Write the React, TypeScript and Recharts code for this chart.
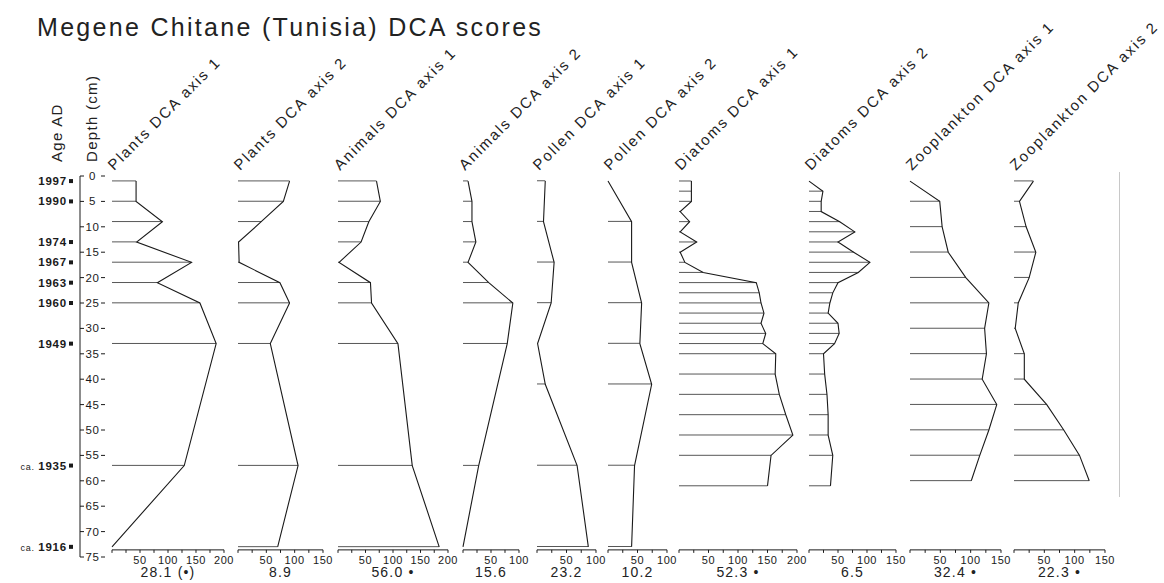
import React from 'react';
import { ComposedChart, Line, Bar, XAxis, YAxis, ReferenceLine } from 'recharts';

// sample depths (cm) per proxy group
const plantDepths = [1, 5, 9, 13, 17, 21, 25, 33, 57, 73];
const pollenDepths = [1, 9, 17, 25, 33, 41, 57, 73];
const diatomDepths = [1, 3, 5, 7, 9, 11, 13, 15, 17, 19, 21, 23, 25, 27, 29, 31, 33, 35, 39, 43, 47, 51, 55, 61];
const zooDepths = [1, 5, 10, 15, 20, 25, 30, 35, 40, 45, 50, 55, 60];

// DCA scores
const plants1 = [43, 43, 90, 44, 142, 81, 157, 186, 129, 0];
const plants2 = [91, 80, 41, 1, 2, 74, 91, 57, 106, 70];
const animals1 = [70, 77, 56, 42, 2, 59, 61, 109, 135, 184];
const animals2 = [9, 16, 16, 23, 9, 46, 89, 79, 28, 0];
const pollen1 = [14, 11, 29, 24, 1, 14, 68, 87];
const pollen2 = [0, 40, 40, 57, 54, 74, 45, 40];
const diatoms1 = [21, 21, 21, 2, 18, 2, 30, 2, 10, 41, 131, 136, 139, 144, 139, 147, 142, 164, 163, 170, 181, 193, 156, 150];
const diatoms2 = [0, 24, 21, 21, 53, 79, 50, 77, 105, 85, 50, 41, 36, 33, 50, 52, 44, 25, 27, 31, 33, 33, 41, 37];
const zoo1 = [0, 49, 53, 63, 92, 130, 123, 126, 119, 143, 130, 115, 101];
const zoo2 = [32, 9, 20, 36, 25, 7, 2, 17, 17, 54, 82, 108, 124];

const panelNames = [
  'Plants DCA axis 1', 'Plants DCA axis 2', 'Animals DCA axis 1', 'Animals DCA axis 2',
  'Pollen DCA axis 1', 'Pollen DCA axis 2', 'Diatoms DCA axis 1', 'Diatoms DCA axis 2',
  'Zooplankton DCA axis 1', 'Zooplankton DCA axis 2',
];
const panelNotes = ['28.1 (•)', '8.9', '56.0 •', '15.6', '23.2', '10.2', '52.3 •', '6.5', '32.4 •', '22.3 •'];
const panelMax = [200, 150, 200, 100, 100, 100, 200, 150, 150, 150];

const ageDepths = [1, 5, 13, 17, 21, 25, 33, 57, 73];
const ageLabels = ['1997', '1990', '1974', '1967', '1963', '1960', '1949', 'ca. 1935', 'ca. 1916'];
const depthTicks = [0, 5, 10, 15, 20, 25, 30, 35, 40, 45, 50, 55, 60, 65, 70, 75];

const series = [
  [plantDepths, plants1], [plantDepths, plants2], [plantDepths, animals1], [plantDepths, animals2],
  [pollenDepths, pollen1], [pollenDepths, pollen2], [diatomDepths, diatoms1], [diatomDepths, diatoms2],
  [zooDepths, zoo1], [zooDepths, zoo2],
];

// layout
const lefts = [112, 238, 338, 463, 537, 608, 679, 809, 910, 1014];
const widths = [112, 85, 110, 56, 59, 59, 118, 87, 91, 91];
const TOP = 176;
const PX_CM = 5.08;
const PANEL_END = 73.6;
const M = 10;
const AXIS_H = 36;
const DEPTH_L = 80;
const DEPTH_R = 105;
const FONT = '"Liberation Sans", Arial, sans-serif';
const INK = '#1a1a1a';

function SampleLine(props: any) {
  const { x, y, width, height } = props;
  if (!width || width < 0.5) return <g />;
  const yy = y + height / 2;
  return <line x1={x} x2={x + width} y1={yy} y2={yy} stroke="#444" strokeWidth={0.9} />;
}

function ValueTick(props: any) {
  const { x, y, payload } = props;
  const v = payload.value;
  if (v === 0 || v % 50 !== 0) return <g />;
  return (
    <text x={x} y={y + 9} textAnchor="middle" fontSize={11} letterSpacing={0.6} fill={INK} fontFamily={FONT}>
      {v}
    </text>
  );
}

function Panel({ i }: { i: number }) {
  const [depths, values] = series[i];
  const data = depths.map((d, k) => ({ depth: d, value: values[k] }));
  const max = panelMax[i];
  const ticks: number[] = [];
  for (let t = 0; t <= max; t += 25) ticks.push(t);
  const plotH = PANEL_END * PX_CM;
  return (
    <div style={{ position: 'absolute', left: lefts[i] - M, top: TOP - M }}>
      <ComposedChart
        layout="vertical"
        width={widths[i] + 2 * M}
        height={plotH + M + AXIS_H}
        data={data}
        margin={{ top: M, right: M, bottom: 0, left: M }}
      >
        <XAxis xAxisId="top" orientation="top" type="number" domain={[0, max]} ticks={ticks} height={0}
          tick={() => <g />} tickSize={3} stroke={INK} />
        <XAxis type="number" domain={[0, max]} ticks={ticks} height={AXIS_H} tickSize={3} stroke={INK}
          tick={ValueTick} interval={0} />
        <YAxis type="number" dataKey="depth" domain={[0, PANEL_END]} width={0} tick={false} stroke={INK} />
        <Bar dataKey="value" barSize={2} shape={SampleLine} isAnimationActive={false} />
        <Line dataKey="value" type="linear" stroke={INK} strokeWidth={1.1} dot={false} isAnimationActive={false} />
      </ComposedChart>
    </div>
  );
}

const axisTicks = Array.from(new Set([...depthTicks, ...ageDepths])).sort((a, b) => a - b);

function DepthAgeTick(props: any) {
  const { y, payload } = props;
  const v = payload.value;
  const idx = ageDepths.indexOf(v);
  const label = idx >= 0 ? ageLabels[idx] : '';
  const ca = label.startsWith('ca. ');
  return (
    <g>
      {depthTicks.includes(v) && (
        <g>
          <line x1={DEPTH_L} x2={DEPTH_L + 4} y1={y} y2={y} stroke={INK} />
          <line x1={DEPTH_R - 4} x2={DEPTH_R} y1={y} y2={y} stroke={INK} />
          <text x={(DEPTH_L + DEPTH_R) / 2} y={y + 4} textAnchor="middle" fontSize={11.5} letterSpacing={0.5}
            fill={INK} fontFamily={FONT}>
            {v}
          </text>
        </g>
      )}
      {idx >= 0 && (
        <g>
          <text x={DEPTH_L - 13} y={y + 4} textAnchor="end" fontSize={11.5} fontWeight="bold" letterSpacing={0.8}
            fill={INK} fontFamily={FONT}>
            {ca && <tspan fontSize={9} fontWeight="normal">ca. </tspan>}
            {ca ? label.slice(4) : label}
          </text>
          <rect x={DEPTH_L - 11} y={y - 2} width={4} height={4} fill={INK} />
        </g>
      )}
    </g>
  );
}

function DepthAxis() {
  const data = ageDepths.map((d, k) => ({ depth: d, age: ageLabels[k] }));
  const plotH = 75 * PX_CM;
  return (
    <div style={{ position: 'absolute', left: 0, top: TOP - M }}>
      <ComposedChart layout="vertical" width={DEPTH_R + M} height={plotH + 2 * M} data={data}
        margin={{ top: M, right: M, bottom: M, left: 0 }}>
        <XAxis type="number" domain={[0, 1]} hide />
        <YAxis type="number" dataKey="depth" domain={[0, 75]} width={DEPTH_L}
          ticks={axisTicks} interval={0} tick={DepthAgeTick} tickLine={false} stroke={INK} />
        <ReferenceLine x={1} stroke={INK} />
      </ComposedChart>
    </div>
  );
}

export default function App() {
  return (
    <div style={{ position: 'absolute', left: 0, top: 0, width: 1164, height: 583, background: '#fff', overflow: 'hidden' }}>
      <svg width={1164} height={583} style={{ position: 'absolute', left: 0, top: 0 }}>
        <text x={37} y={36} fontSize={25} letterSpacing={2.3} fill="#222" fontFamily={FONT}>
          Megene Chitane (Tunisia) DCA scores
        </text>
        <text transform="translate(62,162) rotate(-90)" fontSize={15} letterSpacing={1.3} fill="#222" fontFamily={FONT}>
          Age AD
        </text>
        <text transform="translate(97,162) rotate(-90)" fontSize={15} letterSpacing={1.3} fill="#222" fontFamily={FONT}>
          Depth (cm)
        </text>
        {panelNames.map((n, i) => (
          <text key={n} transform={`translate(${lefts[i] + 2},171) rotate(-45)`} fontSize={15} letterSpacing={1.9}
            fill="#222" fontFamily={FONT}>
            {n}
          </text>
        ))}
        {panelNotes.map((n, i) => (
          <text key={i} x={lefts[i] + widths[i] / 2} y={577} textAnchor="middle" fontSize={14} letterSpacing={1.2}
            fill="#222" fontFamily={FONT}>
            {n}
          </text>
        ))}
      </svg>
      <div style={{ position: 'absolute', left: 1119, top: 172, width: 1, height: 325, background: '#c8c8c8' }} />
      <DepthAxis />
      {series.map((_, i) => (
        <Panel key={i} i={i} />
      ))}
    </div>
  );
}
